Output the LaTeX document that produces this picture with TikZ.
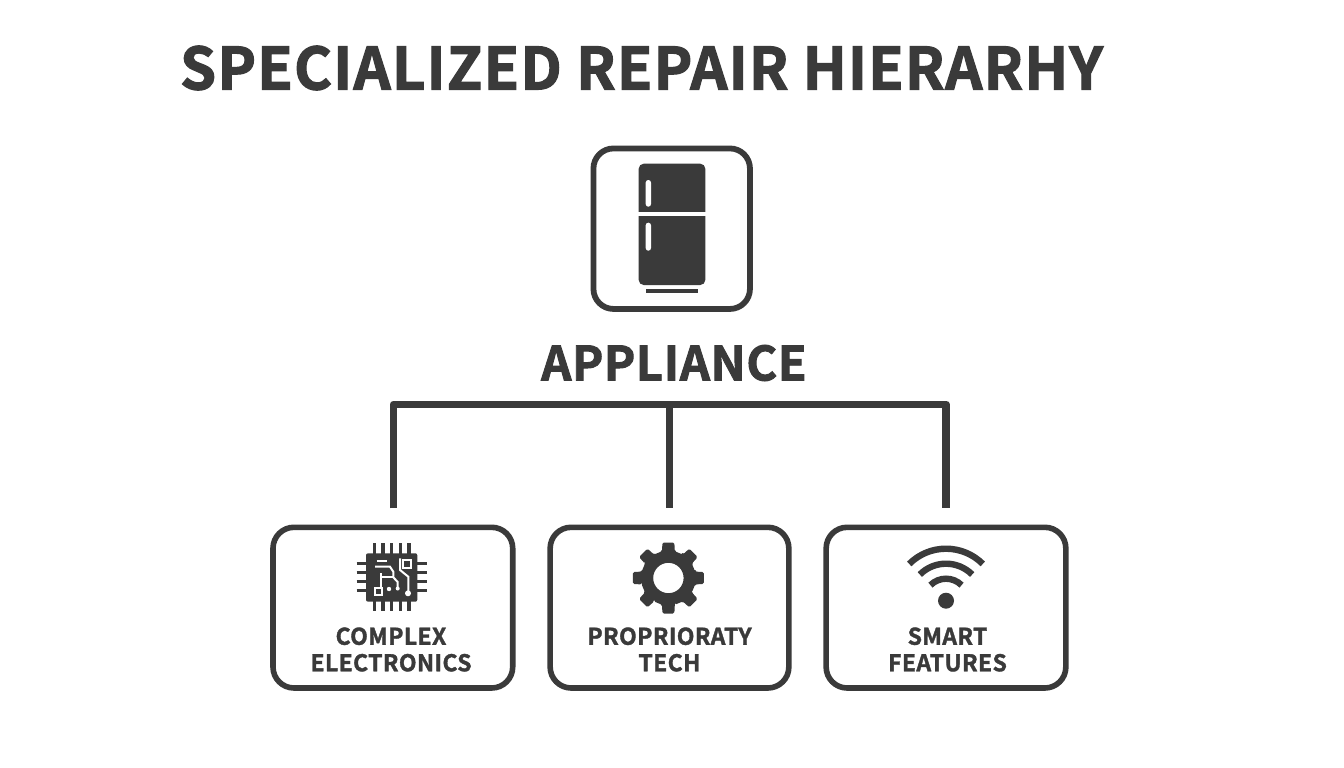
\documentclass[tikz,border=0pt]{standalone}
\usepackage{fontspec}
\setmainfont{Noto Sans CJK SC}[BoldFont={* Bold}]
\definecolor{ink}{HTML}{3A3A3A}
\tikzset{
  card/.style={draw=ink,line width=5.6pt,rounded corners=21pt,fill=white},
  link/.style={draw=ink,line width=7.6pt,line cap=butt},
  cardlabel/.style={text=ink,font=\bfseries\fontsize{23}{26.5}\selectfont\addfontfeature{LetterSpace=1.5,FakeBold=1.5},align=center,inner sep=0pt},
  pin/.style={draw=ink,line width=3.4pt},
  trace/.style={draw=white,line width=2pt},
  wave/.style={draw=ink,line width=6.4pt}
}
\begin{document}
\begin{tikzpicture}[x=1pt,y=-1pt]
\useasboundingbox (0,0) rectangle (1344,768);
\fill[white] (0,0) rectangle (1344,768);
\node[text=ink,font=\bfseries\fontsize{58}{60}\selectfont\addfontfeature{LetterSpace=2,FakeBold=2},inner sep=0pt] (title) at (641.5,68) {SPECIALIZED REPAIR HIERARHY};
% appliance icon
\node[draw=ink,line width=5.8pt,rounded corners=20pt,minimum width=156.5pt,minimum height=160.5pt,inner sep=0pt] (icon) at (671.7,228.7) {};
\fill[ink,rounded corners=5pt] (638.7,163.7) rectangle (705.3,285);
\fill[white] (637,212.3) rectangle (707,215.8);
\fill[white,rounded corners=2.6pt] (645.7,180) rectangle (651,206.7);
\fill[white,rounded corners=2.6pt] (645.7,222.7) rectangle (651,250.7);
\fill[ink] (645.7,288.7) rectangle (698.3,293);
\node[text=ink,font=\bfseries\fontsize{47}{50}\selectfont\addfontfeature{LetterSpace=1.3,FakeBold=2},inner sep=0pt] (appliance) at (674,363) {APPLIANCE};
% cards
\node[card,minimum width=239.7pt,minimum height=160.7pt,inner sep=0pt] (c1) at (392.85,607.65) {};
\node[card,minimum width=238.7pt,minimum height=160.7pt,inner sep=0pt] (c2) at (669.5,607.65) {};
\node[card,minimum width=239.7pt,minimum height=160.7pt,inner sep=0pt] (c3) at (946,607.65) {};
% connectors
\coordinate (bl) at (393.5,404.3);
\coordinate (bm) at (669.3,404.3);
\coordinate (br) at (946,404.3);
\coordinate (e1) at (393.5,508.3);
\coordinate (e2) at (669.3,508.3);
\coordinate (e3) at (946,508.3);
\draw[link,line join=round] (e1) -- (bl) -- (br) -- (e3);
\draw[link] (bm) -- (e2);
% labels
\node[cardlabel] (t1) at (391,649.5) {COMPLEX\\ELECTRONICS};
\node[cardlabel] (t2) at (669.5,649.5) {PROPRIORATY\\TECH};
\node[cardlabel] (t3) at (947.5,649.5) {SMART\\FEATURES};
% chip
\foreach \x in {374.3,383,391.7,400.3,409} \draw[pin] (\x,543.3) -- (\x,610.7);
\foreach \y in {563.3,572.3,581.3,590.3} \draw[pin] (356.7,\y) -- (427.3,\y);
\fill[ink,rounded corners=2pt] (366,553.3) rectangle (417.3,601.7);
\draw[trace] (376.7,561) -- (386.7,561);
\draw[trace] (375,566.7) -- (390,566.7) -- (393.3,571.7) -- (393.3,577.3) -- (397.7,582) -- (397.7,588);
\draw[trace] (381.7,577.3) -- (393.3,577.3);
\draw[trace] (403.3,560) rectangle (411,568.3);
\draw[trace] (400,558.3) -- (400,570) -- (408.3,576.7) -- (408.3,593.3);
\draw[trace] (381,573.3) -- (381,588);
\draw[trace] (375,588.3) rectangle (381.7,595);
\fill[white] (389,589) circle (2.2);
\fill[white] (397.7,588.5) circle (2);
\fill[white] (408,593.3) circle (3);
% gear
\fill[ink,even odd rule,rounded corners=1.5pt]
  ([shift={(668.4,578)}]-13.5:27.5)
  \foreach \a in {0,45,...,315} {
    -- ([shift={(668.4,578)}]\a-13.5:27.5) -- ([shift={(668.4,578)}]\a-9.5:36) -- ([shift={(668.4,578)}]\a+9.5:36) -- ([shift={(668.4,578)}]\a+13.5:27.5) -- ([shift={(668.4,578)}]\a+31.5:27.5)
  } -- cycle
  (668.4,578) circle (15.2);
% wifi
\fill[ink] (946,600.7) circle (8);
\draw[wave] ([shift={(946,600.7)}]-45:52) arc[start angle=-45,end angle=-135,radius=52];
\draw[wave] ([shift={(946,600.7)}]-45:37) arc[start angle=-45,end angle=-135,radius=37];
\draw[wave] ([shift={(946,600.7)}]-45:22) arc[start angle=-45,end angle=-135,radius=22];
\end{tikzpicture}
\end{document}
